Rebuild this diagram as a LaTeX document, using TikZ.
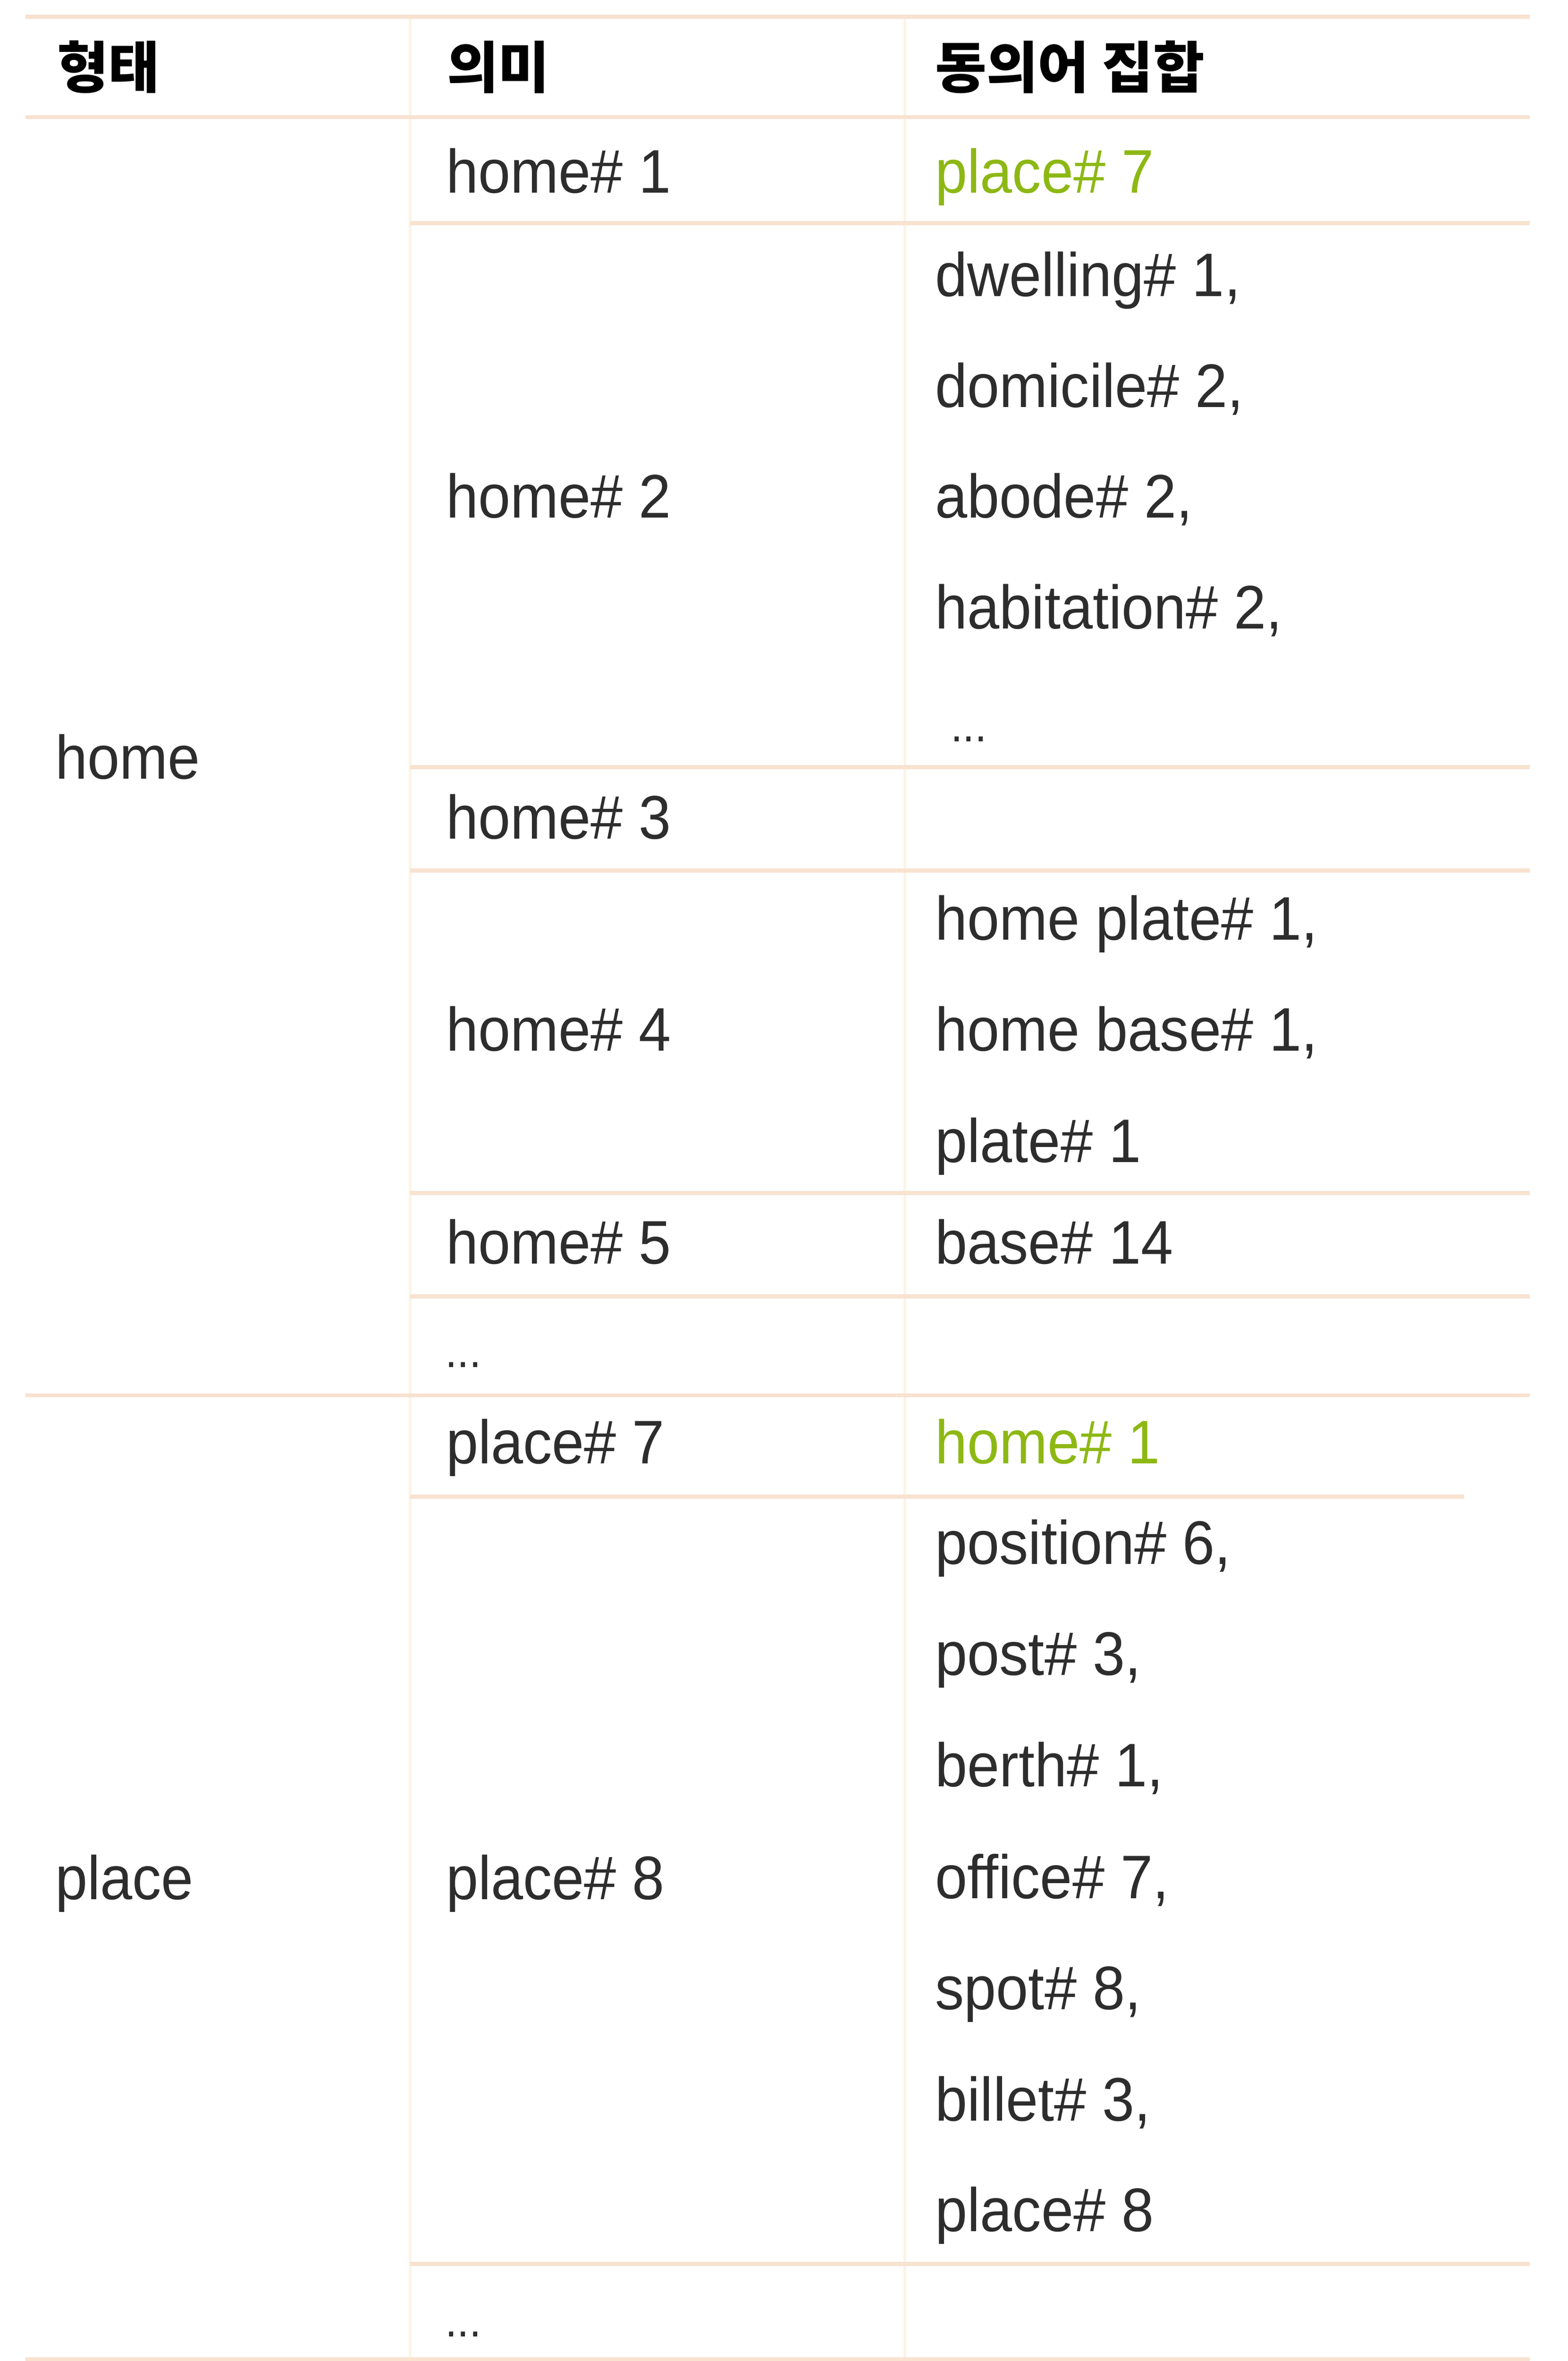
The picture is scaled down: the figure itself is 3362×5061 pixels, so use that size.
\documentclass[tikz,border=0pt]{standalone}
\usepackage{fontspec}
\setmainfont{Liberation Sans}[FakeStretch=0.94]
\newfontfamily\kr{Noto Sans CJK KR}
\definecolor{rulec}{RGB}{248,226,208}
\definecolor{vrulec}{RGB}{252,244,230}
\definecolor{txt}{RGB}{45,45,45}
\definecolor{hl}{RGB}{141,184,20}
\begin{document}
\begin{tikzpicture}[x=0.01cm,y=-0.01cm,
  cell/.style={anchor=base west,inner sep=0pt,text=txt,font=\fontsize{37.5}{40}\selectfont},
  head/.style={anchor=base west,inner sep=0pt,text=black,font=\kr\bfseries\fontsize{34}{40}\selectfont},
  green/.style={text=hl},
  dots/.style={anchor=base west,inner sep=0pt,text=txt,font=\fontsize{28}{30}\selectfont},
  hrule/.style={draw=rulec,line width=0.09cm},
  vrule/.style={draw=vrulec,line width=0.06cm}]
\useasboundingbox (0,0) rectangle (3362,5061);
% coordinates for rules
\coordinate (tl) at (55,36);   \coordinate (tr) at (3280,36);
\coordinate (hl0) at (55,251); \coordinate (hr0) at (3280,251);
\coordinate (sl) at (55,2991); \coordinate (sr) at (3280,2991);
\coordinate (bl) at (55,5057); \coordinate (br) at (3280,5057);
\coordinate (a1) at (880,478);  \coordinate (b1) at (3280,478);
\coordinate (a2) at (880,1644); \coordinate (b2) at (3280,1644);
\coordinate (a3) at (880,1866); \coordinate (b3) at (3280,1866);
\coordinate (a4) at (880,2557); \coordinate (b4) at (3280,2557);
\coordinate (a5) at (880,2779); \coordinate (b5) at (3280,2779);
\coordinate (a7) at (880,3208); \coordinate (b7) at (3140,3208);
\coordinate (a8) at (880,4853); \coordinate (b8) at (3280,4853);
\coordinate (v1t) at (880,36);  \coordinate (v1b) at (880,5061);
\coordinate (v2t) at (1940,36); \coordinate (v2b) at (1940,5061);
% vertical rules
\draw[vrule] (v1t) -- (v1b);
\draw[vrule] (v2t) -- (v2b);
% horizontal rules
\draw[hrule] (tl) -- (tr);
\draw[hrule] (hl0) -- (hr0);
\draw[hrule] (sl) -- (sr);
\draw[hrule] (bl) -- (br);
\draw[hrule] (a1) -- (b1);
\draw[hrule] (a2) -- (b2);
\draw[hrule] (a3) -- (b3);
\draw[hrule] (a4) -- (b4);
\draw[hrule] (a5) -- (b5);
\draw[hrule] (a7) -- (b7);
\draw[hrule] (a8) -- (b8);
% header
\node[head] (h1) at (122,189) {형태};
\node[head] (h2) at (958,189) {의미};
\node[head] (h3) at (2005,189) {동의어 집합};
% column 1
\node[cell] (w1) at (118,1670) {home};
\node[cell] (w2) at (118,4072) {place};
% column 2
\node[cell] (s1) at (956,413) {home\# 1};
\node[cell] (s2) at (956,1110) {home\# 2};
\node[cell] (s3) at (956,1798) {home\# 3};
\node[cell] (s4) at (956,2253) {home\# 4};
\node[cell] (s5) at (956,2709) {home\# 5};
\node[dots] (s6) at (954,2931) {...};
\node[cell] (s7) at (956,3137) {place\# 7};
\node[cell] (s8) at (956,4072) {place\# 8};
\node[dots] (s9) at (954,5009) {...};
% column 3
\node[cell,green] (y1) at (2005,413) {place\# 7};
\node[cell] (y2) at (2005,635) {dwelling\# 1,};
\node[cell] (y3) at (2005,873) {domicile\# 2,};
\node[cell] (y4) at (2005,1110) {abode\# 2,};
\node[cell] (y5) at (2005,1348) {habitation\# 2,};
\node[dots] (y6) at (2038,1590) {...};
\node[cell] (y7) at (2005,2015) {home plate\# 1,};
\node[cell] (y8) at (2005,2253) {home base\# 1,};
\node[cell] (y9) at (2005,2492) {plate\# 1};
\node[cell] (y10) at (2005,2709) {base\# 14};
\node[cell,green] (y11) at (2005,3137) {home\# 1};
\node[cell] (y12) at (2005,3353) {position\# 6,};
\node[cell] (y13) at (2005,3591) {post\# 3,};
\node[cell] (y14) at (2005,3830) {berth\# 1,};
\node[cell] (y15) at (2005,4069) {office\# 7,};
\node[cell] (y16) at (2005,4307) {spot\# 8,};
\node[cell] (y17) at (2005,4546) {billet\# 3,};
\node[cell] (y18) at (2005,4783) {place\# 8};
\end{tikzpicture}
\end{document}
